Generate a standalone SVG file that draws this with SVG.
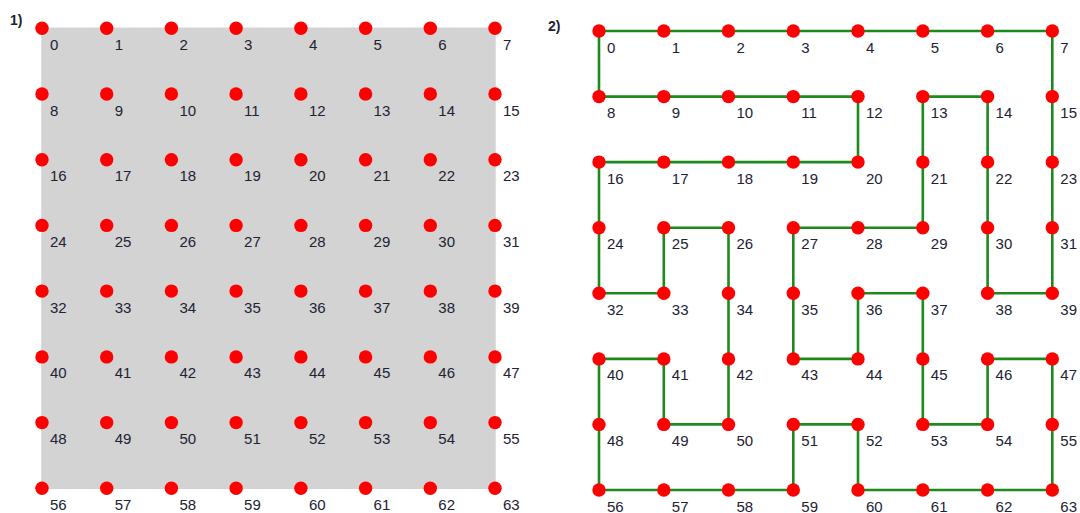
<svg xmlns="http://www.w3.org/2000/svg" width="1080" height="513" viewBox="0 0 1080 513">
<style>
.n{fill:#ff0000}
.l{font-family:"Liberation Sans",Arial,sans-serif;font-size:15px;fill:#222233}
.t{font-family:"Liberation Sans",Arial,sans-serif;font-size:14px;font-weight:bold;fill:#222233}
.kn{fill:#d3d3d3;stroke:#d3d3d3;stroke-width:1.5}
.hp{fill:none;stroke:#1e8a1e;stroke-width:2.6;stroke-linejoin:miter}
</style>
<rect width="1080" height="513" fill="#ffffff"/>
<text class="t" x="10" y="25">1)</text>
<text class="t" x="548" y="31">2)</text>
<g id="connectors">
<rect class="kn" x="42" y="28.3" width="453" height="460"/>
<polygon class="hp" points="599,31 1052.3,31 1052.3,293.3 987.6,293.3 987.6,96.6 922.8,96.6 922.8,227.7 793.3,227.7 793.3,358.9 858,358.9 858,293.3 922.8,293.3 922.8,424.4 987.6,424.4 987.6,358.9 1052.3,358.9 1052.3,490 858,490 858,424.4 793.3,424.4 793.3,490 599,490 599,358.9 663.8,358.9 663.8,424.4 728.5,424.4 728.5,227.7 663.8,227.7 663.8,293.3 599,293.3 599,162.1 858,162.1 858,96.6 599,96.6"/>
</g>
<g id="left-nodes">
<g id="a0"><circle class="n" cx="42" cy="28.3" r="6.7"/><text class="l" x="50" y="49.8">0</text></g>
<g id="a1"><circle class="n" cx="106.7" cy="28.3" r="6.7"/><text class="l" x="114.7" y="49.8">1</text></g>
<g id="a2"><circle class="n" cx="171.4" cy="28.3" r="6.7"/><text class="l" x="179.4" y="49.8">2</text></g>
<g id="a3"><circle class="n" cx="236.1" cy="28.3" r="6.7"/><text class="l" x="244.1" y="49.8">3</text></g>
<g id="a4"><circle class="n" cx="300.9" cy="28.3" r="6.7"/><text class="l" x="308.9" y="49.8">4</text></g>
<g id="a5"><circle class="n" cx="365.6" cy="28.3" r="6.7"/><text class="l" x="373.6" y="49.8">5</text></g>
<g id="a6"><circle class="n" cx="430.3" cy="28.3" r="6.7"/><text class="l" x="438.3" y="49.8">6</text></g>
<g id="a7"><circle class="n" cx="495" cy="28.3" r="6.7"/><text class="l" x="503" y="49.8">7</text></g>
<g id="a8"><circle class="n" cx="42" cy="94" r="6.7"/><text class="l" x="50" y="115.5">8</text></g>
<g id="a9"><circle class="n" cx="106.7" cy="94" r="6.7"/><text class="l" x="114.7" y="115.5">9</text></g>
<g id="a10"><circle class="n" cx="171.4" cy="94" r="6.7"/><text class="l" x="179.4" y="115.5">10</text></g>
<g id="a11"><circle class="n" cx="236.1" cy="94" r="6.7"/><text class="l" x="244.1" y="115.5">11</text></g>
<g id="a12"><circle class="n" cx="300.9" cy="94" r="6.7"/><text class="l" x="308.9" y="115.5">12</text></g>
<g id="a13"><circle class="n" cx="365.6" cy="94" r="6.7"/><text class="l" x="373.6" y="115.5">13</text></g>
<g id="a14"><circle class="n" cx="430.3" cy="94" r="6.7"/><text class="l" x="438.3" y="115.5">14</text></g>
<g id="a15"><circle class="n" cx="495" cy="94" r="6.7"/><text class="l" x="503" y="115.5">15</text></g>
<g id="a16"><circle class="n" cx="42" cy="159.7" r="6.7"/><text class="l" x="50" y="181.2">16</text></g>
<g id="a17"><circle class="n" cx="106.7" cy="159.7" r="6.7"/><text class="l" x="114.7" y="181.2">17</text></g>
<g id="a18"><circle class="n" cx="171.4" cy="159.7" r="6.7"/><text class="l" x="179.4" y="181.2">18</text></g>
<g id="a19"><circle class="n" cx="236.1" cy="159.7" r="6.7"/><text class="l" x="244.1" y="181.2">19</text></g>
<g id="a20"><circle class="n" cx="300.9" cy="159.7" r="6.7"/><text class="l" x="308.9" y="181.2">20</text></g>
<g id="a21"><circle class="n" cx="365.6" cy="159.7" r="6.7"/><text class="l" x="373.6" y="181.2">21</text></g>
<g id="a22"><circle class="n" cx="430.3" cy="159.7" r="6.7"/><text class="l" x="438.3" y="181.2">22</text></g>
<g id="a23"><circle class="n" cx="495" cy="159.7" r="6.7"/><text class="l" x="503" y="181.2">23</text></g>
<g id="a24"><circle class="n" cx="42" cy="225.4" r="6.7"/><text class="l" x="50" y="246.9">24</text></g>
<g id="a25"><circle class="n" cx="106.7" cy="225.4" r="6.7"/><text class="l" x="114.7" y="246.9">25</text></g>
<g id="a26"><circle class="n" cx="171.4" cy="225.4" r="6.7"/><text class="l" x="179.4" y="246.9">26</text></g>
<g id="a27"><circle class="n" cx="236.1" cy="225.4" r="6.7"/><text class="l" x="244.1" y="246.9">27</text></g>
<g id="a28"><circle class="n" cx="300.9" cy="225.4" r="6.7"/><text class="l" x="308.9" y="246.9">28</text></g>
<g id="a29"><circle class="n" cx="365.6" cy="225.4" r="6.7"/><text class="l" x="373.6" y="246.9">29</text></g>
<g id="a30"><circle class="n" cx="430.3" cy="225.4" r="6.7"/><text class="l" x="438.3" y="246.9">30</text></g>
<g id="a31"><circle class="n" cx="495" cy="225.4" r="6.7"/><text class="l" x="503" y="246.9">31</text></g>
<g id="a32"><circle class="n" cx="42" cy="291.1" r="6.7"/><text class="l" x="50" y="312.6">32</text></g>
<g id="a33"><circle class="n" cx="106.7" cy="291.1" r="6.7"/><text class="l" x="114.7" y="312.6">33</text></g>
<g id="a34"><circle class="n" cx="171.4" cy="291.1" r="6.7"/><text class="l" x="179.4" y="312.6">34</text></g>
<g id="a35"><circle class="n" cx="236.1" cy="291.1" r="6.7"/><text class="l" x="244.1" y="312.6">35</text></g>
<g id="a36"><circle class="n" cx="300.9" cy="291.1" r="6.7"/><text class="l" x="308.9" y="312.6">36</text></g>
<g id="a37"><circle class="n" cx="365.6" cy="291.1" r="6.7"/><text class="l" x="373.6" y="312.6">37</text></g>
<g id="a38"><circle class="n" cx="430.3" cy="291.1" r="6.7"/><text class="l" x="438.3" y="312.6">38</text></g>
<g id="a39"><circle class="n" cx="495" cy="291.1" r="6.7"/><text class="l" x="503" y="312.6">39</text></g>
<g id="a40"><circle class="n" cx="42" cy="356.9" r="6.7"/><text class="l" x="50" y="378.4">40</text></g>
<g id="a41"><circle class="n" cx="106.7" cy="356.9" r="6.7"/><text class="l" x="114.7" y="378.4">41</text></g>
<g id="a42"><circle class="n" cx="171.4" cy="356.9" r="6.7"/><text class="l" x="179.4" y="378.4">42</text></g>
<g id="a43"><circle class="n" cx="236.1" cy="356.9" r="6.7"/><text class="l" x="244.1" y="378.4">43</text></g>
<g id="a44"><circle class="n" cx="300.9" cy="356.9" r="6.7"/><text class="l" x="308.9" y="378.4">44</text></g>
<g id="a45"><circle class="n" cx="365.6" cy="356.9" r="6.7"/><text class="l" x="373.6" y="378.4">45</text></g>
<g id="a46"><circle class="n" cx="430.3" cy="356.9" r="6.7"/><text class="l" x="438.3" y="378.4">46</text></g>
<g id="a47"><circle class="n" cx="495" cy="356.9" r="6.7"/><text class="l" x="503" y="378.4">47</text></g>
<g id="a48"><circle class="n" cx="42" cy="422.6" r="6.7"/><text class="l" x="50" y="444.1">48</text></g>
<g id="a49"><circle class="n" cx="106.7" cy="422.6" r="6.7"/><text class="l" x="114.7" y="444.1">49</text></g>
<g id="a50"><circle class="n" cx="171.4" cy="422.6" r="6.7"/><text class="l" x="179.4" y="444.1">50</text></g>
<g id="a51"><circle class="n" cx="236.1" cy="422.6" r="6.7"/><text class="l" x="244.1" y="444.1">51</text></g>
<g id="a52"><circle class="n" cx="300.9" cy="422.6" r="6.7"/><text class="l" x="308.9" y="444.1">52</text></g>
<g id="a53"><circle class="n" cx="365.6" cy="422.6" r="6.7"/><text class="l" x="373.6" y="444.1">53</text></g>
<g id="a54"><circle class="n" cx="430.3" cy="422.6" r="6.7"/><text class="l" x="438.3" y="444.1">54</text></g>
<g id="a55"><circle class="n" cx="495" cy="422.6" r="6.7"/><text class="l" x="503" y="444.1">55</text></g>
<g id="a56"><circle class="n" cx="42" cy="488.3" r="6.7"/><text class="l" x="50" y="509.8">56</text></g>
<g id="a57"><circle class="n" cx="106.7" cy="488.3" r="6.7"/><text class="l" x="114.7" y="509.8">57</text></g>
<g id="a58"><circle class="n" cx="171.4" cy="488.3" r="6.7"/><text class="l" x="179.4" y="509.8">58</text></g>
<g id="a59"><circle class="n" cx="236.1" cy="488.3" r="6.7"/><text class="l" x="244.1" y="509.8">59</text></g>
<g id="a60"><circle class="n" cx="300.9" cy="488.3" r="6.7"/><text class="l" x="308.9" y="509.8">60</text></g>
<g id="a61"><circle class="n" cx="365.6" cy="488.3" r="6.7"/><text class="l" x="373.6" y="509.8">61</text></g>
<g id="a62"><circle class="n" cx="430.3" cy="488.3" r="6.7"/><text class="l" x="438.3" y="509.8">62</text></g>
<g id="a63"><circle class="n" cx="495" cy="488.3" r="6.7"/><text class="l" x="503" y="509.8">63</text></g>
</g>
<g id="right-nodes">
<g id="b0"><circle class="n" cx="599" cy="31" r="6.7"/><text class="l" x="607" y="52.5">0</text></g>
<g id="b1"><circle class="n" cx="663.8" cy="31" r="6.7"/><text class="l" x="671.8" y="52.5">1</text></g>
<g id="b2"><circle class="n" cx="728.5" cy="31" r="6.7"/><text class="l" x="736.5" y="52.5">2</text></g>
<g id="b3"><circle class="n" cx="793.3" cy="31" r="6.7"/><text class="l" x="801.3" y="52.5">3</text></g>
<g id="b4"><circle class="n" cx="858" cy="31" r="6.7"/><text class="l" x="866" y="52.5">4</text></g>
<g id="b5"><circle class="n" cx="922.8" cy="31" r="6.7"/><text class="l" x="930.8" y="52.5">5</text></g>
<g id="b6"><circle class="n" cx="987.6" cy="31" r="6.7"/><text class="l" x="995.6" y="52.5">6</text></g>
<g id="b7"><circle class="n" cx="1052.3" cy="31" r="6.7"/><text class="l" x="1060.3" y="52.5">7</text></g>
<g id="b8"><circle class="n" cx="599" cy="96.6" r="6.7"/><text class="l" x="607" y="118.1">8</text></g>
<g id="b9"><circle class="n" cx="663.8" cy="96.6" r="6.7"/><text class="l" x="671.8" y="118.1">9</text></g>
<g id="b10"><circle class="n" cx="728.5" cy="96.6" r="6.7"/><text class="l" x="736.5" y="118.1">10</text></g>
<g id="b11"><circle class="n" cx="793.3" cy="96.6" r="6.7"/><text class="l" x="801.3" y="118.1">11</text></g>
<g id="b12"><circle class="n" cx="858" cy="96.6" r="6.7"/><text class="l" x="866" y="118.1">12</text></g>
<g id="b13"><circle class="n" cx="922.8" cy="96.6" r="6.7"/><text class="l" x="930.8" y="118.1">13</text></g>
<g id="b14"><circle class="n" cx="987.6" cy="96.6" r="6.7"/><text class="l" x="995.6" y="118.1">14</text></g>
<g id="b15"><circle class="n" cx="1052.3" cy="96.6" r="6.7"/><text class="l" x="1060.3" y="118.1">15</text></g>
<g id="b16"><circle class="n" cx="599" cy="162.1" r="6.7"/><text class="l" x="607" y="183.6">16</text></g>
<g id="b17"><circle class="n" cx="663.8" cy="162.1" r="6.7"/><text class="l" x="671.8" y="183.6">17</text></g>
<g id="b18"><circle class="n" cx="728.5" cy="162.1" r="6.7"/><text class="l" x="736.5" y="183.6">18</text></g>
<g id="b19"><circle class="n" cx="793.3" cy="162.1" r="6.7"/><text class="l" x="801.3" y="183.6">19</text></g>
<g id="b20"><circle class="n" cx="858" cy="162.1" r="6.7"/><text class="l" x="866" y="183.6">20</text></g>
<g id="b21"><circle class="n" cx="922.8" cy="162.1" r="6.7"/><text class="l" x="930.8" y="183.6">21</text></g>
<g id="b22"><circle class="n" cx="987.6" cy="162.1" r="6.7"/><text class="l" x="995.6" y="183.6">22</text></g>
<g id="b23"><circle class="n" cx="1052.3" cy="162.1" r="6.7"/><text class="l" x="1060.3" y="183.6">23</text></g>
<g id="b24"><circle class="n" cx="599" cy="227.7" r="6.7"/><text class="l" x="607" y="249.2">24</text></g>
<g id="b25"><circle class="n" cx="663.8" cy="227.7" r="6.7"/><text class="l" x="671.8" y="249.2">25</text></g>
<g id="b26"><circle class="n" cx="728.5" cy="227.7" r="6.7"/><text class="l" x="736.5" y="249.2">26</text></g>
<g id="b27"><circle class="n" cx="793.3" cy="227.7" r="6.7"/><text class="l" x="801.3" y="249.2">27</text></g>
<g id="b28"><circle class="n" cx="858" cy="227.7" r="6.7"/><text class="l" x="866" y="249.2">28</text></g>
<g id="b29"><circle class="n" cx="922.8" cy="227.7" r="6.7"/><text class="l" x="930.8" y="249.2">29</text></g>
<g id="b30"><circle class="n" cx="987.6" cy="227.7" r="6.7"/><text class="l" x="995.6" y="249.2">30</text></g>
<g id="b31"><circle class="n" cx="1052.3" cy="227.7" r="6.7"/><text class="l" x="1060.3" y="249.2">31</text></g>
<g id="b32"><circle class="n" cx="599" cy="293.3" r="6.7"/><text class="l" x="607" y="314.8">32</text></g>
<g id="b33"><circle class="n" cx="663.8" cy="293.3" r="6.7"/><text class="l" x="671.8" y="314.8">33</text></g>
<g id="b34"><circle class="n" cx="728.5" cy="293.3" r="6.7"/><text class="l" x="736.5" y="314.8">34</text></g>
<g id="b35"><circle class="n" cx="793.3" cy="293.3" r="6.7"/><text class="l" x="801.3" y="314.8">35</text></g>
<g id="b36"><circle class="n" cx="858" cy="293.3" r="6.7"/><text class="l" x="866" y="314.8">36</text></g>
<g id="b37"><circle class="n" cx="922.8" cy="293.3" r="6.7"/><text class="l" x="930.8" y="314.8">37</text></g>
<g id="b38"><circle class="n" cx="987.6" cy="293.3" r="6.7"/><text class="l" x="995.6" y="314.8">38</text></g>
<g id="b39"><circle class="n" cx="1052.3" cy="293.3" r="6.7"/><text class="l" x="1060.3" y="314.8">39</text></g>
<g id="b40"><circle class="n" cx="599" cy="358.9" r="6.7"/><text class="l" x="607" y="380.4">40</text></g>
<g id="b41"><circle class="n" cx="663.8" cy="358.9" r="6.7"/><text class="l" x="671.8" y="380.4">41</text></g>
<g id="b42"><circle class="n" cx="728.5" cy="358.9" r="6.7"/><text class="l" x="736.5" y="380.4">42</text></g>
<g id="b43"><circle class="n" cx="793.3" cy="358.9" r="6.7"/><text class="l" x="801.3" y="380.4">43</text></g>
<g id="b44"><circle class="n" cx="858" cy="358.9" r="6.7"/><text class="l" x="866" y="380.4">44</text></g>
<g id="b45"><circle class="n" cx="922.8" cy="358.9" r="6.7"/><text class="l" x="930.8" y="380.4">45</text></g>
<g id="b46"><circle class="n" cx="987.6" cy="358.9" r="6.7"/><text class="l" x="995.6" y="380.4">46</text></g>
<g id="b47"><circle class="n" cx="1052.3" cy="358.9" r="6.7"/><text class="l" x="1060.3" y="380.4">47</text></g>
<g id="b48"><circle class="n" cx="599" cy="424.4" r="6.7"/><text class="l" x="607" y="445.9">48</text></g>
<g id="b49"><circle class="n" cx="663.8" cy="424.4" r="6.7"/><text class="l" x="671.8" y="445.9">49</text></g>
<g id="b50"><circle class="n" cx="728.5" cy="424.4" r="6.7"/><text class="l" x="736.5" y="445.9">50</text></g>
<g id="b51"><circle class="n" cx="793.3" cy="424.4" r="6.7"/><text class="l" x="801.3" y="445.9">51</text></g>
<g id="b52"><circle class="n" cx="858" cy="424.4" r="6.7"/><text class="l" x="866" y="445.9">52</text></g>
<g id="b53"><circle class="n" cx="922.8" cy="424.4" r="6.7"/><text class="l" x="930.8" y="445.9">53</text></g>
<g id="b54"><circle class="n" cx="987.6" cy="424.4" r="6.7"/><text class="l" x="995.6" y="445.9">54</text></g>
<g id="b55"><circle class="n" cx="1052.3" cy="424.4" r="6.7"/><text class="l" x="1060.3" y="445.9">55</text></g>
<g id="b56"><circle class="n" cx="599" cy="490" r="6.7"/><text class="l" x="607" y="511.5">56</text></g>
<g id="b57"><circle class="n" cx="663.8" cy="490" r="6.7"/><text class="l" x="671.8" y="511.5">57</text></g>
<g id="b58"><circle class="n" cx="728.5" cy="490" r="6.7"/><text class="l" x="736.5" y="511.5">58</text></g>
<g id="b59"><circle class="n" cx="793.3" cy="490" r="6.7"/><text class="l" x="801.3" y="511.5">59</text></g>
<g id="b60"><circle class="n" cx="858" cy="490" r="6.7"/><text class="l" x="866" y="511.5">60</text></g>
<g id="b61"><circle class="n" cx="922.8" cy="490" r="6.7"/><text class="l" x="930.8" y="511.5">61</text></g>
<g id="b62"><circle class="n" cx="987.6" cy="490" r="6.7"/><text class="l" x="995.6" y="511.5">62</text></g>
<g id="b63"><circle class="n" cx="1052.3" cy="490" r="6.7"/><text class="l" x="1060.3" y="511.5">63</text></g>
</g>
</svg>
